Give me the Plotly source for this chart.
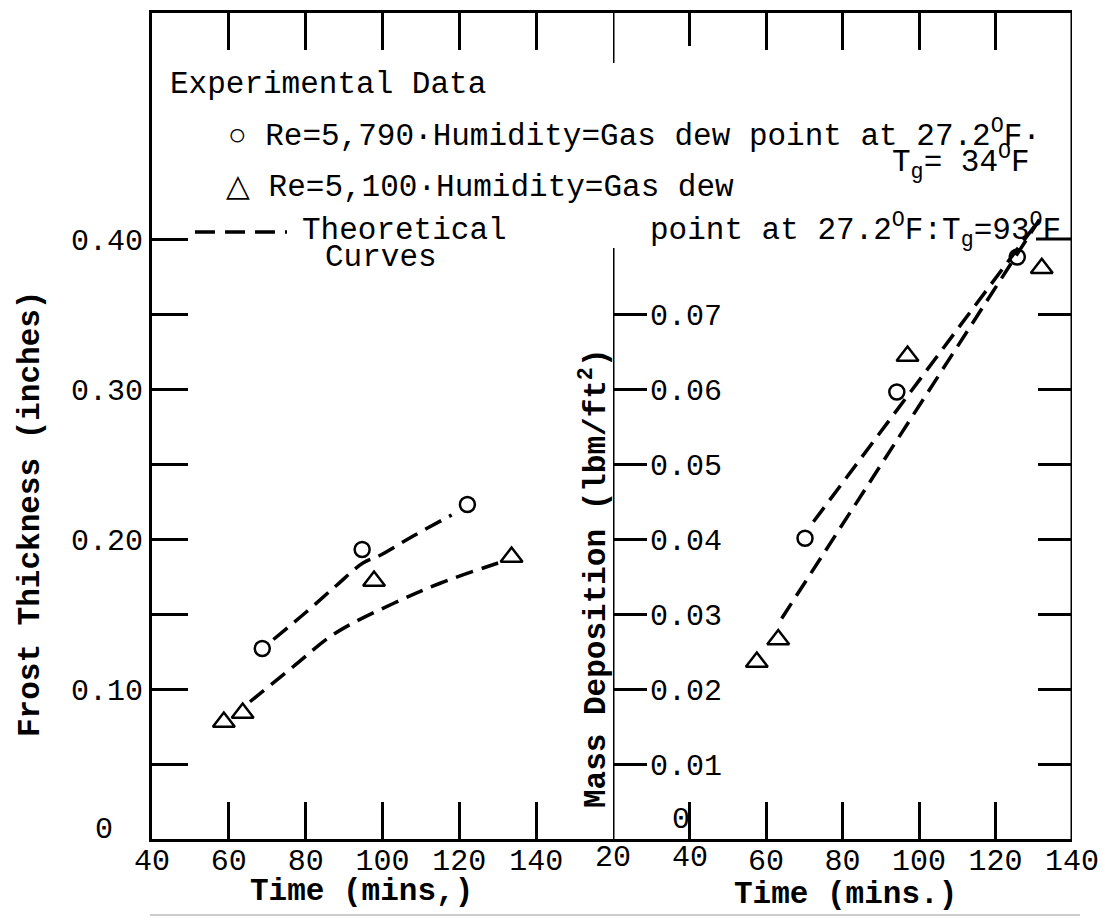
import plotly.graph_objects as go

# ---- Frost thickness (left panel) ----
frost_time_re5790 = [68.7, 94.7, 122.1]
frost_thick_re5790 = [0.127, 0.193, 0.223]
frost_time_re5100 = [58.7, 63.6, 97.8, 133.6]
frost_thick_re5100 = [0.078, 0.084, 0.172, 0.188]

# theoretical frost curves
frost_theory_time_re5790 = [71.6, 80.0, 88.0, 94.9, 99.3, 108.0, 118.0]
frost_theory_thick_re5790 = [0.133, 0.151, 0.169, 0.184, 0.189, 0.202, 0.216]
frost_theory_time_re5100 = [65.5, 76.8, 87.6, 102.8, 115.0, 130.1]
frost_theory_thick_re5100 = [0.0915, 0.115, 0.137, 0.157, 0.1705, 0.184]

# ---- Mass deposition (right panel) ----
mass_time_re5790 = [70.2, 94.2, 125.7]
mass_dep_re5790 = [0.0401, 0.0596, 0.0776]
mass_time_re5100 = [57.6, 63.2, 97.0, 132.1]
mass_dep_re5100 = [0.0236, 0.0266, 0.0644, 0.0761]

mass_theory_time_re5790 = [72.4, 131.5]
mass_theory_dep_re5790 = [0.0423, 0.0826]
mass_theory_time_re5100 = [64.1, 131.5]
mass_theory_dep_re5100 = [0.0294, 0.0826]

# ---- axis ticks ----
frost_x_ticks = [40, 60, 80, 100, 120, 140]
frost_y_ticks = [0.10, 0.20, 0.30, 0.40]
frost_y_labels = ["0.10", "0.20", "0.30", "0.40"]
frost_y_minor = [0.05, 0.15, 0.25, 0.35]
mass_x_ticks = [60, 80, 100, 120, 140]
mass_x_low_ticks = [20, 40]      # next to the inside y labels, drawn separately
mass_y_ticks = [0.01, 0.02, 0.03, 0.04, 0.05, 0.06, 0.07]
mass_y_labels = ["0.01", "0.02", "0.03", "0.04", "0.05", "0.06", "0.07"]
mass_y_edge_tick = 0.08

W, H = 1103, 919
FONT = "Liberation Mono"
INK = "black"


def px(x):
    return x / W


def py(y):
    return 1 - y / H


LEFT, MID, RIGHT = 152, 613, 1072
TOP, BOTTOM = 13, 839
MASS_PX_PER_UNIT = 7500.0        # vertical pixels per lbm/ft2
TIME_PX_PER_MIN = (RIGHT - MID) / 120.0

frost_ymax = (BOTTOM - TOP) / 1500.0
mass_ymax = (BOTTOM - TOP) / MASS_PX_PER_UNIT

fig = go.Figure()

dash = "18px,9px"
circle = dict(symbol="circle-open", size=15, color=INK, line=dict(width=2.5, color=INK))
tri = dict(symbol="triangle-up-open", size=19, color=INK, line=dict(width=2.5, color=INK))

# left panel
fig.add_trace(go.Scatter(x=frost_theory_time_re5790, y=frost_theory_thick_re5790, mode="lines",
                         line=dict(color=INK, width=3.5, dash=dash, shape="spline"),
                         xaxis="x", yaxis="y", showlegend=False))
fig.add_trace(go.Scatter(x=frost_theory_time_re5100, y=frost_theory_thick_re5100, mode="lines",
                         line=dict(color=INK, width=3.5, dash=dash, shape="spline"),
                         xaxis="x", yaxis="y", showlegend=False))
fig.add_trace(go.Scatter(x=frost_time_re5790, y=frost_thick_re5790, mode="markers", marker=circle,
                         xaxis="x", yaxis="y", showlegend=False))
fig.add_trace(go.Scatter(x=frost_time_re5100, y=frost_thick_re5100, mode="markers", marker=tri,
                         xaxis="x", yaxis="y", showlegend=False))

# right panel
fig.add_trace(go.Scatter(x=mass_theory_time_re5790, y=mass_theory_dep_re5790, mode="lines",
                         line=dict(color=INK, width=3.5, dash=dash),
                         xaxis="x2", yaxis="y2", showlegend=False))
fig.add_trace(go.Scatter(x=mass_theory_time_re5100, y=mass_theory_dep_re5100, mode="lines",
                         line=dict(color=INK, width=3.5, dash=dash),
                         xaxis="x2", yaxis="y2", showlegend=False))
fig.add_trace(go.Scatter(x=mass_time_re5790, y=mass_dep_re5790, mode="markers", marker=circle,
                         xaxis="x2", yaxis="y2", showlegend=False))
fig.add_trace(go.Scatter(x=mass_time_re5100, y=mass_dep_re5100, mode="markers", marker=tri,
                         xaxis="x2", yaxis="y2", showlegend=False))

tickfont = dict(family=FONT, size=30, color=INK)
common = dict(showgrid=False, zeroline=False, tickwidth=2.5, tickcolor=INK,
              linecolor=INK, linewidth=3, tickfont=tickfont, automargin=False)
minor_style = dict(ticks="inside", tickwidth=2.5, tickcolor=INK, showgrid=False)

ydom = [py(BOTTOM), py(TOP)]

fig.update_layout(
    width=W, height=H,
    margin=dict(l=0, r=0, t=0, b=0, autoexpand=False),
    paper_bgcolor="white", plot_bgcolor="white",
    xaxis=dict(domain=[px(LEFT), px(MID)], anchor="y", range=[40, 160],
               tickmode="array", tickvals=frost_x_ticks, ticktext=[str(v) for v in frost_x_ticks],
               ticks="inside", ticklen=37, ticklabelstandoff=-8,
               showline=True, mirror="allticks", **common),
    yaxis=dict(domain=ydom, anchor="x", range=[0, frost_ymax],
               tickmode="array", tickvals=frost_y_ticks, ticktext=frost_y_labels,
               ticks="inside", ticklen=36,
               minor=dict(tickmode="array", tickvals=frost_y_minor, ticklen=36, **minor_style),
               showline=True, mirror=False, **common),
    xaxis2=dict(domain=[px(MID), px(RIGHT)], anchor="y2", range=[20, 140],
                tickmode="array", tickvals=mass_x_ticks, ticktext=[str(v) for v in mass_x_ticks],
                ticks="inside", ticklen=37, ticklabelstandoff=-8,
                showline=True, mirror="allticks", **common),
    yaxis2=dict(domain=ydom, anchor="x2", side="left", range=[0, mass_ymax],
                tickmode="array", tickvals=mass_y_ticks, ticktext=mass_y_labels,
                ticks="inside", ticklen=34, ticklabelposition="inside", ticklabelstandoff=6,
                showline=False, mirror="allticks", **common),
)

line_style = dict(color=INK, width=3)

# divider between the two panels (broken where the key text runs across it)
fig.add_shape(type="line", xref="x2", yref="y2", x0=20, x1=20,
              y0=0, y1=(BOTTOM - 248) / MASS_PX_PER_UNIT, line=line_style)
fig.add_shape(type="line", xref="x2", yref="y2", x0=20, x1=20,
              y0=(BOTTOM - 63) / MASS_PX_PER_UNIT, y1=mass_ymax, line=line_style)
# right-hand frame edge and its top tick
fig.add_shape(type="line", xref="x2", yref="y2", x0=140, x1=140, y0=0, y1=mass_ymax, line=line_style)
fig.add_shape(type="line", xref="paper", yref="paper",
              x0=px(RIGHT - 36), x1=px(RIGHT),
              y0=py(BOTTOM - mass_y_edge_tick * MASS_PX_PER_UNIT),
              y1=py(BOTTOM - mass_y_edge_tick * MASS_PX_PER_UNIT),
              line=dict(color=INK, width=3), layer="above")
# 40-minute ticks of the right panel (bottom and top)
x40 = px(MID + (mass_x_low_ticks[1] - 20) * TIME_PX_PER_MIN)
fig.add_shape(type="line", xref="paper", yref="paper", x0=x40, x1=x40,
              y0=py(BOTTOM), y1=py(BOTTOM - 37), line=dict(color=INK, width=3), layer="above")
fig.add_shape(type="line", xref="paper", yref="paper", x0=x40, x1=x40,
              y0=py(TOP + 33), y1=py(TOP), line=dict(color=INK, width=3), layer="above")
# sample of the dashed theoretical line in the key
fig.add_shape(type="line", xref="paper", yref="paper", x0=px(195), x1=px(287), y0=py(232), y1=py(232),
              line=dict(color=INK, width=3.5, dash="20px,10px"))
# rule under the figure
fig.add_shape(type="line", xref="paper", yref="paper", x0=px(150), x1=px(1080), y0=py(915), y1=py(915),
              line=dict(color="#9a9a9a", width=1.2))

txt = dict(family=FONT, size=31, color=INK)
bold = dict(family=FONT, size=31, color=INK, weight="bold")


def note(text, x, y, xanchor="left", font=txt, angle=0):
    fig.add_annotation(text=text, x=px(x), y=py(y), xref="paper", yref="paper",
                       xanchor=xanchor, yanchor="middle", showarrow=False,
                       font=font, textangle=angle)


note("Experimental Data", 168, 85)
note("○ Re=5,790·Humidity=Gas dew point at 27.2<sup>O</sup>F·", 226, 134)
note("T<sub>g</sub>= 34<sup>O</sup>F", 890, 162)
note("△ Re=5,100·Humidity=Gas dew", 224, 188)
note("point at 27.2<sup>O</sup>F:T<sub>g</sub>=93<sup>O</sup>F", 648, 230)
note("Theoretical", 300, 230)
note("Curves", 381, 257, xanchor="center")

# zero labels
note("0", 104, 830, xanchor="center", font=tickfont)
note("0", 681, 820, xanchor="center", font=tickfont)

# first two time labels of the right panel
for v in mass_x_low_ticks:
    fig.add_annotation(text=str(v), x=v, xref="x2", y=py(858), yref="paper",
                       xanchor="center", yanchor="middle", showarrow=False, font=tickfont)

# axis titles
note("Time (mins,)", 361, 891, xanchor="center", font=bold)
note("Time (mins.)", 845, 894, xanchor="center", font=bold)
note("Frost Thickness (inches)", 30, 514, xanchor="center", font=bold, angle=-90)
note("Mass Deposition (lbm/ft<sup>2</sup>)", 594, 578, xanchor="center", font=bold, angle=-90)

fig.write_html("out.html")
